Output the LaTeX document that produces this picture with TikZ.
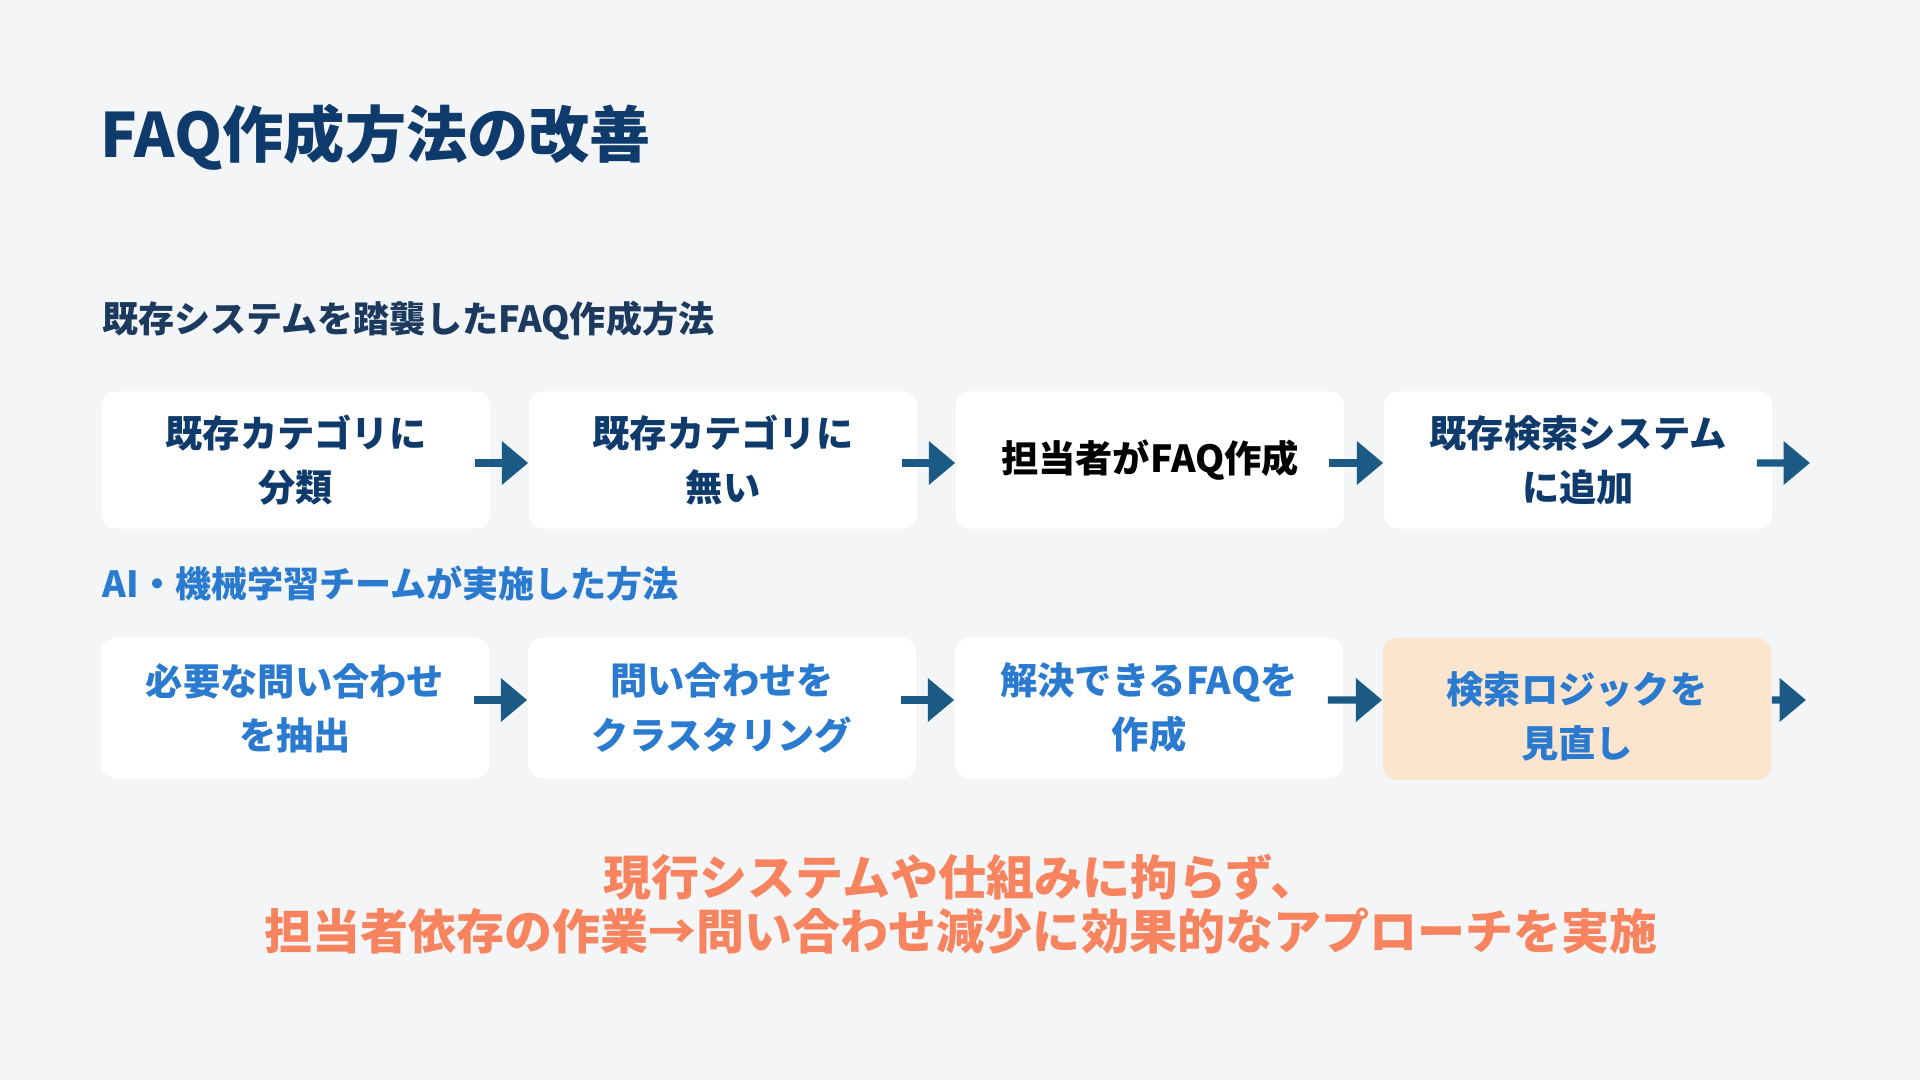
\documentclass[tikz,border=0pt]{standalone}
\usepackage{fontspec}
\setmainfont{Noto Sans CJK JP}
\usetikzlibrary{arrows.meta}
\definecolor{bgc}{HTML}{F3F5F7}
\definecolor{navy}{HTML}{0E3A6C}
\definecolor{headc}{HTML}{1C3A5E}
\definecolor{bluec}{HTML}{2A7BD0}
\definecolor{arrc}{HTML}{1A5A85}
\definecolor{peach}{HTML}{FBE5CE}
\definecolor{salmon}{HTML}{F7845E}
\tikzset{
  stepbox/.style={fill=white, rounded corners=4pt, minimum width=3.88cm, minimum height=1.37cm,
    align=center, inner sep=0pt, font=\fontsize{10.6pt}{15.4pt}\selectfont\bfseries},
  arr/.style={draw=arrc, line width=2pt, -{Triangle[length=7.5pt,width=12pt]}},
  heading/.style={anchor=west, inner sep=0pt, font=\fontsize{10.25pt}{13pt}\selectfont\bfseries}
}
\begin{document}
\begin{tikzpicture}[x=0.01cm,y=-0.01cm]
\useasboundingbox[fill=bgc] (0,0) rectangle (1920,1080);
\node[anchor=west, inner sep=0pt, text=navy, font=\fontsize{17.4pt}{20pt}\selectfont\bfseries] (title) at (100,137) {FAQ作成方法の改善};
\node[heading, text=headc] (h1) at (102,321) {既存システムを踏襲したFAQ作成方法};
% row 1
\node[stepbox, text=navy] (a1) at (296,460) {既存カテゴリに\\分類};
\node[stepbox, text=navy] (a2) at (723,460) {既存カテゴリに\\無い};
\node[stepbox, text=black] (a3) at (1150,460) {担当者がFAQ作成};
\node[stepbox, text=navy] (a4) at (1578,460) {既存検索システム\\に追加};
\coordinate (a5) at (1810,463);
\draw[arr] ([xshift=-0.16cm,yshift=-0.03cm]a1.east) -- ([yshift=-0.03cm]a2.west);
\draw[arr] ([xshift=-0.16cm,yshift=-0.03cm]a2.east) -- ([yshift=-0.03cm]a3.west);
\draw[arr] ([xshift=-0.16cm,yshift=-0.03cm]a3.east) -- ([yshift=-0.03cm]a4.west);
\draw[arr] ([xshift=-0.16cm,yshift=-0.03cm]a4.east) -- (a5);
% row 2
\node[heading, text=bluec] (h2) at (102,584) {AI・機械学習チームが実施した方法};
\node[stepbox, text=bluec, minimum height=1.40cm] (b1) at (295,708) {必要な問い合わせ\\を抽出};
\node[stepbox, text=bluec, minimum height=1.40cm] (b2) at (722,708) {問い合わせを\\クラスタリング};
\node[stepbox, text=bluec, minimum height=1.40cm] (b3) at (1149,708) {解決できるFAQを\\作成};
\coordinate (b5) at (1806,700);
\draw[arr] ([xshift=-0.16cm,yshift=0.08cm]b1.east) -- ([yshift=0.08cm]b2.west);
\draw[arr] ([xshift=-0.16cm,yshift=0.08cm]b2.east) -- ([yshift=0.08cm]b3.west);
\node[stepbox, fill=peach, text=bluec, minimum height=1.42cm] (b4) at (1577,709) {\rule{0pt}{13.3pt}検索ロジックを\\見直し};
\draw[arr] ([xshift=-0.16cm,yshift=0.08cm]b3.east) -- ([yshift=0.09cm]b4.west);
\draw[arr] ([yshift=0.09cm]b4.east) -- (b5);
% bottom message
\node[align=center, inner sep=0pt, text=salmon, font=\fontsize{13.65pt}{15.4pt}\selectfont\bfseries] (msg) at (961,904) {現行システムや仕組みに拘らず、\\担当者依存の作業→問い合わせ減少に効果的なアプローチを実施};
\end{tikzpicture}
\end{document}
